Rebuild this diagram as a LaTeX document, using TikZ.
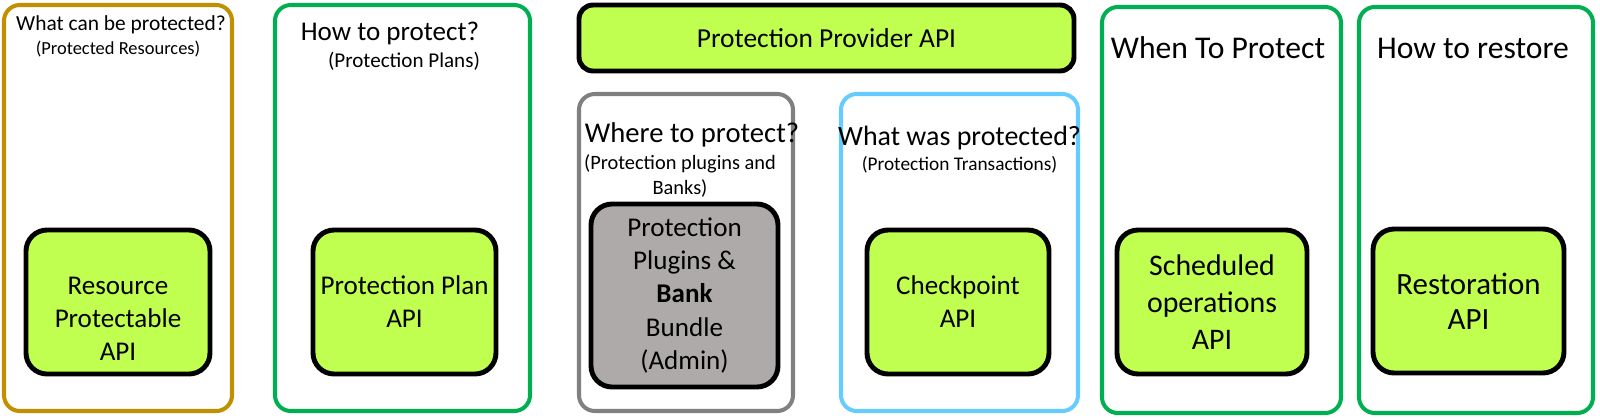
\documentclass[tikz,border=0pt]{standalone}
\usepackage{fontspec}
\setmainfont{Carlito}
\usepackage{tikz}

\definecolor{apigreen}{RGB}{192,255,80}
\definecolor{goldline}{RGB}{191,144,0}
\definecolor{greenline}{RGB}{0,176,80}
\definecolor{greyline}{RGB}{128,128,128}
\definecolor{blueline}{RGB}{102,204,255}
\definecolor{bundlegrey}{RGB}{174,170,170}

\begin{document}
\begin{tikzpicture}
	[
		x=0.02cm, y=-0.02cm,
		boxsize/.style 2 args = {minimum width=#1*0.02cm, minimum height=#2*0.02cm},
		area/.style = {shape=rectangle, rounded corners=9pt, line width=2.3pt, inner sep=0pt, anchor=center},
		api/.style = {shape=rectangle, rounded corners=12pt, line width=2.8pt, draw=black, fill=apigreen,
			inner sep=0pt, anchor=center, align=center, font=\fontsize{15.4}{18.8}\selectfont},
		bighead/.style = {align=center, font=\fontsize{#1}{18}\selectfont},
		bighead/.default = 15.4,
		smallhead/.style = {align=center, font=\fontsize{12.2}{14}\selectfont},
		subhead/.style = {align=center, font=\fontsize{#1}{14.2}\selectfont},
		subhead/.default = 10.5
	]

	\useasboundingbox (0,0) rectangle (1600,417);

	% what can be protected
	\def\x{118}
	\node [area, draw=goldline, boxsize={228}{406}] (resarea) at (\x, 208) {};
	\node [smallhead] (reshead) at (121, 25) {What can be protected?};
	\node [subhead] (ressub) at (\x, 49) {(Protected Resources)};
	\node [api, boxsize={184}{144}] (res) at (\x, 302) {};
	\node [api, draw=none, fill=none] (restext) at (\x, 319) {Resource\\Protectable\\API};

	% how to protect
	\def\x{402.5}
	\node [area, draw=greenline, boxsize={255}{406}] (planarea) at (\x, 208) {};
	\node [bighead] (planhead) at (390, 33) {How to protect?};
	\node [subhead=12] (plansub) at (404, 61) {(Protection Plans)};
	\node [api, boxsize={183}{144}] (plan) at (404.5, 302) {Protection Plan\\API};

	% provider
	\node [api, rounded corners=8pt, boxsize={495}{66}, font=\fontsize{15.6}{18}\selectfont] (provider) at (826.5, 38) {Protection Provider API};

	% where to protect
	\def\x{686}
	\node [area, draw=greyline, boxsize={214}{317}] (bankarea) at (\x, 252.5) {};
	\node [bighead=16.3] (bankhead) at (692, 135) {Where to protect?};
	\node [subhead=11.6] (banksub) at (680, 176) {(Protection plugins and\\Banks)};
	\node [api, fill=bundlegrey, boxsize={187}{183}] (bundle) at (684.5, 295.5)
		{Protection\\Plugins \&\\\textbf{Bank}\\Bundle\\(Admin)};

	% what was protected
	\def\x{959.5}
	\node [area, draw=blueline, boxsize={237}{317}] (checkarea) at (\x, 252.5) {};
	\node [bighead=15.9] (checkhead) at (\x, 138) {What was protected?};
	\node [subhead=11] (checksub) at (\x, 165) {(Protection Transactions)};
	\node [api, boxsize={182}{144}] (check) at (958, 302) {Checkpoint\\API};

	% when to protect
	\def\x{1221.5}
	\node [area, draw=greenline, boxsize={239}{406}] (schedarea) at (\x, 210) {};
	\node [bighead=18] (schedhead) at (1218, 48) {When To Protect};
	\node [api, boxsize={190}{144}, font=\fontsize{17}{21}\selectfont] (sched) at (1212, 302) {Scheduled\\operations\\API};

	% how to restore
	\def\x{1476}
	\node [area, draw=greenline, boxsize={234}{406}] (restorearea) at (\x, 210) {};
	\node [bighead=18] (restorehead) at (1473, 48) {How to restore};
	\node [api, boxsize={191}{144}, font=\fontsize{17.6}{20}\selectfont] (restore) at (1468.5, 301) {Restoration\\API};

\end{tikzpicture}
\end{document}
